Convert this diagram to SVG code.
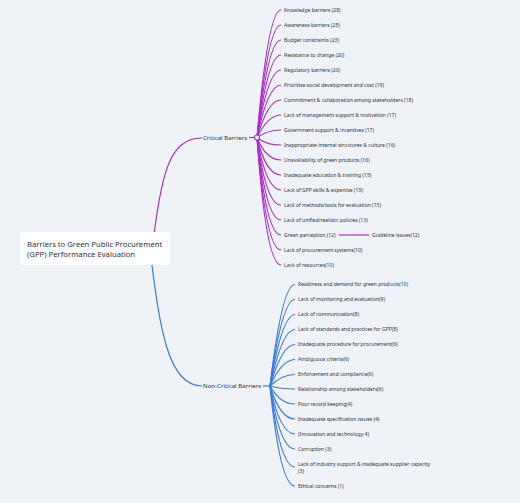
<svg xmlns="http://www.w3.org/2000/svg" width="520" height="503" viewBox="0 0 520 503">
<style>
text{font-family:"Noto Sans","DejaVu Sans",sans-serif;fill:#2e333d}
.leaf{font-size:5.05px}
.branch{font-size:6.1px}
.root{font-size:7.7px}
.cp{fill:none;stroke:#a82fc6;stroke-width:1.2}
.cb{fill:none;stroke:#3a7bd5;stroke-width:1.2}
</style>
<rect width="520" height="503" fill="#eff2f7"/>
<g id="connectors">
<path class="cp" d="M152 248 C162 175 168 138 202 138"/>
<path class="cb" d="M150 250 C160 330 168 386 202 386"/>
<path class="cp" d="M249 137.5 H254.5"/>
<path class="cb" d="M263 386 H270"/>
<g class="cp">
<path d="M257 137.5 Q268 10 281 10"/>
<path d="M257 137.5 Q268 25 281 25"/>
<path d="M257 137.5 Q268 40 281 40"/>
<path d="M257 137.5 Q268 55 281 55"/>
<path d="M257 137.5 Q268 70 281 70"/>
<path d="M257 137.5 Q268 85 281 85"/>
<path d="M257 137.5 Q268 100 281 100"/>
<path d="M257 137.5 Q268 115 281 115"/>
<path d="M257 137.5 Q268 130 281 130"/>
<path d="M257 137.5 Q266 145 281 145"/>
<path d="M257 137.5 Q266 160 281 160"/>
<path d="M257 137.5 Q266 175 281 175"/>
<path d="M257 137.5 Q266 190 281 190"/>
<path d="M257 137.5 Q266 205 281 205"/>
<path d="M257 137.5 Q266 220 281 220"/>
<path d="M257 137.5 Q266 235 281 235"/>
<path d="M257 137.5 Q266 250 281 250"/>
<path d="M257 137.5 Q266 265 281 265"/>
<path d="M339 235 H369"/>
</g>
<g class="cb">
<path d="M270 386 Q282 284.5 295 284.5"/>
<path d="M270 386 Q282 299.5 295 299.5"/>
<path d="M270 386 Q282 314.5 295 314.5"/>
<path d="M270 386 Q282 329.5 295 329.5"/>
<path d="M270 386 Q282 344.5 295 344.5"/>
<path d="M270 386 Q282 359.5 295 359.5"/>
<path d="M270 386 Q282 374.5 295 374.5"/>
<path d="M270 386 Q280 389 295 389"/>
<path d="M270 386 Q280 404 295 404"/>
<path d="M270 386 Q280 419 295 419"/>
<path d="M270 386 Q280 434 295 434"/>
<path d="M270 386 Q280 449 295 449"/>
<path d="M270 386 Q280 467 295 467"/>
<path d="M270 386 Q280 486 295 486"/>
</g>
<circle cx="257" cy="137.5" r="2.5" fill="#fff" stroke="#a82fc6" stroke-width="1.1"/>
</g>
<g id="root">
<rect x="20" y="232" width="150" height="33" rx="2" fill="#fff"/>
<text class="root" x="27" y="246.8">Barriers to Green Public Procurement</text>
<text class="root" x="27" y="256.8">(GPP) Performance Evaluation</text>
</g>
<g id="critical"><text class="branch" x="203" y="139.6">Critical Barriers</text></g>
<g id="noncritical"><text class="branch" x="203" y="388.1">Non-Critical Barriers</text></g>
<g id="critical-items">
<g id="c1"><text class="leaf" x="284" y="11.8">Knowledge barriers (28)</text></g>
<g id="c2"><text class="leaf" x="284" y="26.8">Awareness barriers (25)</text></g>
<g id="c3"><text class="leaf" x="284" y="41.8">Budget constraints (23)</text></g>
<g id="c4"><text class="leaf" x="284" y="56.8">Resistance to change (20)</text></g>
<g id="c5"><text class="leaf" x="284" y="71.8">Regulatory barriers (20)</text></g>
<g id="c6"><text class="leaf" x="284" y="86.8">Prioritise social development and cost (19)</text></g>
<g id="c7"><text class="leaf" x="284" y="101.8">Commitment &amp; collaboration among stakeholders (18)</text></g>
<g id="c8"><text class="leaf" x="284" y="116.8">Lack of management support &amp; motivation (17)</text></g>
<g id="c9"><text class="leaf" x="284" y="131.8">Government support &amp; incentives (17)</text></g>
<g id="c10"><text class="leaf" x="284" y="146.8">Inappropriate internal structures &amp; culture (16)</text></g>
<g id="c11"><text class="leaf" x="284" y="161.8">Unavailability of green products (16)</text></g>
<g id="c12"><text class="leaf" x="284" y="176.8">Inadequate education &amp; training (15)</text></g>
<g id="c13"><text class="leaf" x="284" y="191.8">Lack of GPP skills &amp; expertise (15)</text></g>
<g id="c14"><text class="leaf" x="284" y="206.8">Lack of methods/tools for evaluation (15)</text></g>
<g id="c15"><text class="leaf" x="284" y="221.8">Lack of unified/realistic policies (13)</text></g>
<g id="c16"><text class="leaf" x="284" y="236.8">Green perception (12)</text></g>
<g id="c16a"><text class="leaf" x="372" y="236.8">Guideline issues(12)</text></g>
<g id="c17"><text class="leaf" x="284" y="251.8">Lack of procurement systems(10)</text></g>
<g id="c18"><text class="leaf" x="284" y="266.8">Lack of resources(10)</text></g>
</g>
<g id="noncritical-items">
<g id="n1"><text class="leaf" x="298" y="286.3">Readiness and demand for green products(10)</text></g>
<g id="n2"><text class="leaf" x="298" y="301.3">Lack of monitoring and evaluation(9)</text></g>
<g id="n3"><text class="leaf" x="298" y="316.3">Lack of communication(8)</text></g>
<g id="n4"><text class="leaf" x="298" y="331.3">Lack of standards and practices for GPP(8)</text></g>
<g id="n5"><text class="leaf" x="298" y="346.3">Inadequate procedure for procurement(6)</text></g>
<g id="n6"><text class="leaf" x="298" y="361.3">Ambiguous criteria(6)</text></g>
<g id="n7"><text class="leaf" x="298" y="376.3">Enforcement and compliance(6)</text></g>
<g id="n8"><text class="leaf" x="298" y="390.8">Relationship among stakeholders(6)</text></g>
<g id="n9"><text class="leaf" x="298" y="405.8">Poor record keeping(4)</text></g>
<g id="n10"><text class="leaf" x="298" y="420.8">Inadequate specification issues (4)</text></g>
<g id="n11"><text class="leaf" x="298" y="435.8">(Innovation and technology 4)</text></g>
<g id="n12"><text class="leaf" x="298" y="450.8">Corruption (3)</text></g>
<g id="n13"><text class="leaf" x="298" y="465.8">Lack of industry support &amp; inadequate supplier capacity</text><text class="leaf" x="298" y="472.8">(3)</text></g>
<g id="n14"><text class="leaf" x="298" y="487.8">Ethical concerns (1)</text></g>
</g>
</svg>
